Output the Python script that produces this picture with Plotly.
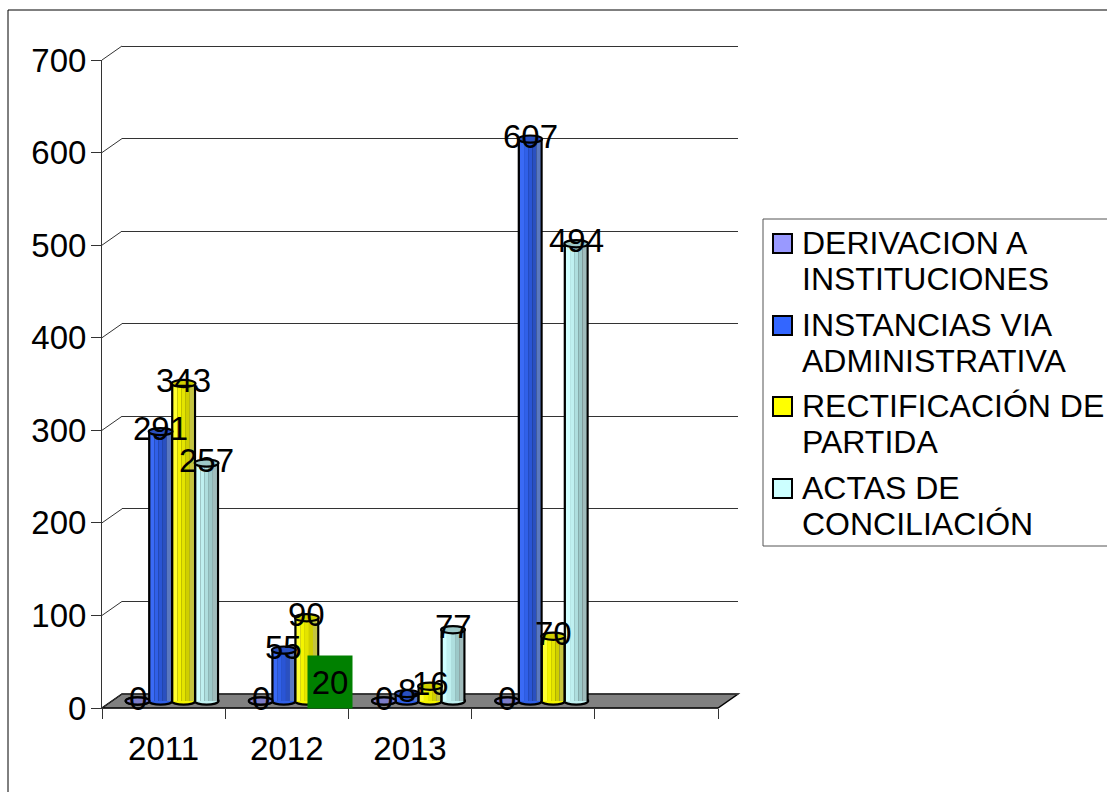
import plotly.graph_objects as go

W, H = 1107, 792

# ---- data ----
categories = ["2011", "2012", "2013", "", ""]
series_names = [
    ["DERIVACION A", "INSTITUCIONES"],
    ["INSTANCIAS VIA", "ADMINISTRATIVA"],
    ["RECTIFICACIÓN DE", "PARTIDA"],
    ["ACTAS DE", "CONCILIACIÓN"],
]
derivacion = [0, 0, 0, 0]
instancias = [291, 55, 8, 607]
rectificacion = [343, 90, 16, 70]
actas = [257, 20, 77, 494]
y_ticks = [0, 100, 200, 300, 400, 500, 600, 700]

series_values = [derivacion, instancias, rectificacion, actas]
face_colors = ["#9999FF", "#3366FF", "#FFFF00", "#CCFFFF"]
cap_colors = ["#7C7CC8", "#2A50C0", "#CFCF00", "#9CC8C8"]
stripe_colors = [
    ["#A5A5FF", "#9999F0", "#8A8AE0", "#7C7CC8", "#8585C0"],
    ["#3A6AF5", "#3060E8", "#2A55D5", "#2A50C0", "#5A78C0"],
    ["#FFFF30", "#F4F400", "#E4E400", "#CFCF00", "#C4C440"],
    ["#CFFFFF", "#BFF0F0", "#AEDEDE", "#9CC8C8", "#A0BCBC"],
]

def fx(p):
    return p / W

def fy(p):
    return 1 - p / H

# pixel geometry of the three depth planes
BACK = (122, 738, 694, 46)
FRONT = (102, 718, 708, 60)
MID_X = (110.5, 726.5)
MID_ZERO, MID_TOP = 701, 53
AXIS_C = "#333333"
FS = 32
FS_NUM = 33

cat_px = (MID_X[1] - MID_X[0]) / 5
unit_px = (MID_ZERO - MID_TOP) / 700
MID_FLOOR = -15  # room under zero for the rounded bar bottoms
MID_BOTTOM = MID_ZERO - MID_FLOOR * unit_px
BACK_PAD = 10    # keeps the 0 and 700 grid lines off the axis edges

pitch = 23 / cat_px
bar_w = 20.5 / cat_px
out_w = 25 / cat_px
ell_h = 3.6 / unit_px

fig = go.Figure()

shapes = []
# chart frame
shapes.append(dict(type="line", xref="paper", yref="paper", x0=fx(8), x1=fx(8), y0=0, y1=fy(10),
                   line=dict(color="black", width=1)))
shapes.append(dict(type="line", xref="paper", yref="paper", x0=fx(8), x1=1, y0=fy(10), y1=fy(10),
                   line=dict(color="black", width=1)))
# floor
shapes.append(dict(type="path", xref="paper", yref="paper", layer="below",
                   path=f"M {fx(FRONT[0])} {fy(FRONT[2])} L {fx(FRONT[1])} {fy(FRONT[2])} "
                        f"L {fx(BACK[1])} {fy(BACK[2])} L {fx(BACK[0])} {fy(BACK[2])} Z",
                   fillcolor="#808080", line=dict(color="black", width=1.5)))
# side wall diagonals
for t in y_ticks:
    py = FRONT[2] - t * unit_px
    shapes.append(dict(type="line", xref="paper", yref="paper", layer="below",
                       x0=fx(FRONT[0]), x1=fx(BACK[0]), y0=fy(py), y1=fy(py - 14),
                       line=dict(color=AXIS_C, width=1)))

annotations = []
cap_shapes = []
base_shapes = []
for j, (vals, cap, stripes) in enumerate(zip(series_values, cap_colors, stripe_colors)):
    xs = [i + 0.5 + (j - 1.5) * pitch for i in range(len(vals))]
    # dark outline, then the shaded cylinder body
    fig.add_trace(go.Bar(x=xs, y=vals, width=out_w, marker=dict(color="black", line=dict(width=0)),
                         xaxis="x2", yaxis="y2", showlegend=False, hoverinfo="skip"))
    n = len(stripes)
    for k, col in enumerate(stripes):
        fig.add_trace(go.Bar(x=xs, y=vals, width=bar_w / n + 0.001, offset=-bar_w / 2 + k * bar_w / n,
                             marker=dict(color=col, line=dict(width=0)),
                             xaxis="x2", yaxis="y2", showlegend=False, hoverinfo="skip"))
    for x, v in zip(xs, vals):
        base_shapes.append(dict(type="circle", xref="x2", yref="y2", layer="below",
                                x0=x - out_w / 2 + 0.005, x1=x + out_w / 2 - 0.005, y0=-ell_h, y1=ell_h,
                                fillcolor=stripes[1], line=dict(color="black", width=2.4)))
        cap_shapes.append(dict(type="circle", xref="x2", yref="y2", layer="above",
                               x0=x - out_w / 2 + 0.005, x1=x + out_w / 2 - 0.005, y0=v - ell_h, y1=v + ell_h,
                               fillcolor=cap, line=dict(color="black", width=2.2)))
        if v == 20:
            annotations.append(dict(x=x, y=v, xref="x2", yref="y2", text=str(v), showarrow=False,
                                    width=42, height=50, bgcolor="#008000",
                                    font=dict(size=FS_NUM, color="black")))
        else:
            annotations.append(dict(x=x, y=v, xref="x2", yref="y2", text=str(v), showarrow=False, yshift=3,
                                    font=dict(size=FS_NUM, color="black")))

# legend box, drawn by hand so its line pitch and keys follow the reference
LEG_L, LEG_T, LEG_B = 763, 219, 546
legend_shapes = [dict(type="rect", xref="paper", yref="paper", x0=fx(LEG_L), x1=fx(W + 20), y0=fy(LEG_B), y1=fy(LEG_T),
                      fillcolor="white", line=dict(color="#555555", width=1))]
first_line_y = [243, 325, 406, 488]
for name, face, y0 in zip(series_names, face_colors, first_line_y):
    legend_shapes.append(dict(type="rect", xref="paper", yref="paper", x0=fx(773), x1=fx(792), y0=fy(y0 + 10), y1=fy(y0 - 9),
                              fillcolor=face, line=dict(color="black", width=2)))
    for li, line in enumerate(name):
        annotations.append(dict(x=fx(800), y=fy(y0 + li * 36), xref="paper", yref="paper", text=line,
                                showarrow=False, xanchor="left", yanchor="middle",
                                font=dict(size=FS, color="black")))

back_u = (BACK[2] - BACK[3]) / 700
fig.update_layout(
    width=W, height=H, margin=dict(l=0, r=0, t=0, b=0, autoexpand=False),
    paper_bgcolor="white", plot_bgcolor="rgba(0,0,0,0)",
    barmode="overlay", showlegend=False,
    font=dict(family="Liberation Sans, Arial, sans-serif", size=FS, color="black"),
    xaxis=dict(domain=[fx(BACK[0]), fx(BACK[1])], range=[0, 5], anchor="y", showgrid=False,
               showticklabels=False, ticks="", showline=False, zeroline=False),
    yaxis=dict(domain=[fy(BACK[2] + BACK_PAD * back_u), fy(BACK[3] - BACK_PAD * back_u)],
               range=[-BACK_PAD, 700 + BACK_PAD], anchor="x", tickvals=y_ticks,
               showticklabels=False, ticks="", showgrid=True, gridcolor=AXIS_C, gridwidth=1,
               showline=False, zeroline=False),
    xaxis2=dict(domain=[fx(MID_X[0]), fx(MID_X[1])], range=[0, 5], anchor="y2", visible=False),
    yaxis2=dict(domain=[fy(MID_BOTTOM), fy(MID_TOP)], range=[MID_FLOOR, 700], anchor="x2", visible=False),
    xaxis3=dict(domain=[fx(FRONT[0]), fx(FRONT[1])], range=[0, 5], anchor="y3",
                tickvals=[i + 0.5 for i in range(5)], ticktext=categories, ticks="",
                showline=True, linecolor=AXIS_C, linewidth=1, showgrid=False, zeroline=False,
                minor=dict(tickvals=list(range(6)), ticks="outside", ticklen=10, tickcolor=AXIS_C, tickwidth=1),
                tickfont=dict(size=FS_NUM), ticklabelstandoff=11),
    yaxis3=dict(domain=[fy(FRONT[2]), fy(FRONT[3])], range=[0, 700], anchor="x3", tickvals=y_ticks,
                ticks="outside", ticklen=10, tickcolor=AXIS_C, tickwidth=1, showline=True, linecolor=AXIS_C,
                linewidth=1, showgrid=False, zeroline=False, tickfont=dict(size=FS_NUM), ticklabelstandoff=-2),
    shapes=shapes + base_shapes + cap_shapes + legend_shapes,
    annotations=annotations,
)
# invisible traces so that the front and back axes are drawn
fig.add_trace(go.Scatter(x=[0], y=[0], xaxis="x3", yaxis="y3", mode="none", showlegend=False, hoverinfo="skip"))
fig.add_trace(go.Scatter(x=[0], y=[0], xaxis="x", yaxis="y", mode="none", showlegend=False, hoverinfo="skip"))

fig.write_html("out.html", post_script="document.body.style.margin='0';document.body.style.overflow='hidden';",
               config=dict(displayModeBar=False))
